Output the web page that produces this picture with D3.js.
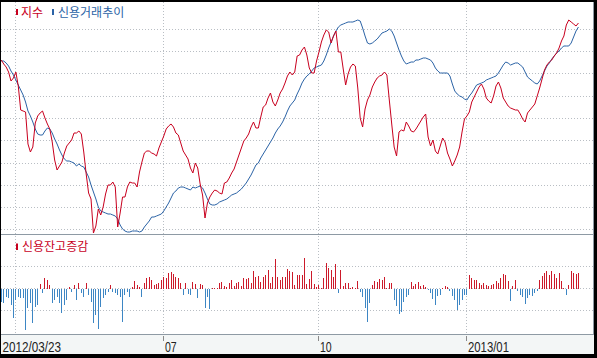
<!DOCTYPE html>
<html><head><meta charset="utf-8">
<script src="https://cdn.jsdelivr.net/npm/d3@7"></script>
<style>html,body{margin:0;padding:0;background:#000;overflow:hidden}svg{display:block}</style>
</head><body>
<script>
// 지수 (index line), arbitrary units
const indexSeries = [170,166,163,158,149,152,158,144,120,119,
118,86,78,83,107,114,117,119,112,106,
101,88,70,60,64,68,77,84,87,90,
97,97,99,96,78,56,37,31,-3,4,
21,15,23,36,45,45,48,43,3,17,
33,33,43,48,47,47,43,58,68,77,
79,79,77,76,74,82,88,94,101,104,
106,103,97,95,87,79,75,71,62,57,
67,62,46,35,12,27,33,37,40,39,
37,36,47,48,52,57,61,68,75,82,
89,92,96,103,108,102,102,113,123,125,
132,137,128,124,130,137,141,147,154,158,
155,158,174,175,180,183,175,162,157,157,
169,178,188,195,200,198,187,194,199,178,
178,161,145,156,163,166,164,142,112,103,
121,130,135,143,148,152,154,155,158,155,
130,106,83,74,98,100,99,108,104,99,
98,101,105,109,113,116,93,84,90,79,
76,84,92,88,77,71,64,69,75,83,
98,111,114,118,128,133,138,143,146,141,
132,129,127,134,144,148,142,132,128,124,
122,121,120,120,116,111,108,117,120,123,
126,134,142,151,160,165,168,170,174,177,
182,189,194,205,210,208,206,204,207];

// 신용거래추이 (credit trading trend)
const creditTrend = [169,169,167,164,159,155,150,145,140,135,
128,119,114,108,101,96,95,95,99,102,
101,97,91,86,80,75,71,69,69,68,
67,64,66,64,63,58,53,45,38,31,
23,19,18,17,16,16,15,14,11,5,
1,-1,-2,-2,-1,-1,-1,-2,-1,3,
6,9,13,13,14,15,16,19,23,27,
32,37,39,42,43,43,42,41,40,43,
42,43,44,42,37,31,26,25,25,26,
28,29,30,31,33,35,36,37,39,41,
44,47,51,55,60,65,67,72,76,80,
84,88,92,97,101,104,108,113,119,124,
127,130,136,141,147,151,154,156,159,162,
163,164,165,169,175,182,188,194,199,203,
205,206,207,208,208,208,209,210,209,202,
194,187,186,187,189,191,194,197,198,199,
201,199,194,187,180,174,169,166,167,168,
168,170,170,171,172,172,171,170,167,162,
159,157,157,157,157,154,146,139,136,134,
133,131,130,134,137,141,145,146,147,148,
150,151,152,153,154,157,161,165,168,167,
165,166,167,167,165,163,158,153,151,149,
147,146,149,154,159,164,167,171,174,177,
179,182,184,184,184,187,193,199,203];

// 신용잔고증감 (daily change of credit balance)
const creditChange = [-0.6,-0.66,-0.36,-0.44,-0.74,-1.34,-0.51,-0.36,-0.44,-0.44,
-1.86,-0.89,-0.66,-1.56,-0.81,-0.74,0.2,-0.21,0.5,0.39,
0.17,-0.66,-0.51,-0.36,-0.66,-1.11,-0.74,-0.51,0.09,-0.14,
0.17,-0.51,0.24,-0.21,-0.36,0.24,-0.29,-0.59,-1.56,-1.19,
-1.82,-0.81,-0.44,-0.29,-0.14,0.17,-0.14,-0.21,-0.29,-0.36,
-1.52,-0.29,-0.14,-0.36,0.09,0.35,0.17,0.09,-0.36,0.24,
0.47,0.54,0.39,0.17,0.2,0.24,0.39,0.54,0.47,0.69,
0.74,0.65,0.54,0.47,0.24,-0.29,0.24,-0.26,-0.29,0.32,
0.2,-0.44,0.21,0.17,-0.89,-0.36,-0.93,0.03,0.02,0.05,
0.27,0.3,0.12,0.09,0.27,0.39,0.12,0.27,0.3,0.12,
0.48,0.45,0.48,0.24,0.8,0.54,0.57,0.32,0.54,0.63,
0.84,0.24,0.54,1.34,0.51,0.39,0.54,0.54,0.89,0.81,
0.75,0.18,0.63,0.63,0.63,1.4,0.21,0.42,0.8,0.21,
0.09,0.18,0.05,0.48,1.17,0.93,0.84,0.54,1.1,-0.18,
0.86,0.12,0.27,0.27,0.05,0.09,0.04,0.35,-0.14,-0.36,
-0.89,-1.48,-0.66,0.17,0.36,0.32,0.42,0.39,0.54,0.04,
0.27,0.24,-0.51,-0.78,-1.14,-1.05,-0.6,-0.36,-0.3,0.29,
0.11,0.21,0.29,0.11,0.15,0.06,-0.05,-0.2,-0.45,-0.75,
-0.35,-0.27,0.03,0.14,0.09,-0.12,-0.35,-0.5,-0.95,-0.72,
-0.5,-0.3,-0.27,0.63,0.48,0.41,0.41,0.26,0.15,0.25,
0.18,0.11,0.18,0.21,0.35,0.26,0.48,0.66,0.6,0.33,
-0.57,0.11,0.41,-0.12,-0.3,-0.39,-0.69,-0.42,-0.27,-0.35,
-0.2,-0.1,0.41,0.56,0.71,0.78,0.6,0.78,0.66,0.48,
0.71,0.36,0.05,-0.27,0.18,0.78,0.71,0.66,0.71];

// x axis: trading-day index of labelled ticks
const tickIdx = [0, 67, 131, 192];
const tickLabels = ["2012/03/23", "07", "10", "2013/01"];
const gridIdx = [6, 67, 131, 192];
const topGridStep = 22.3;
const topGridCount = 10;
const bottomGridVals = [-1, 0, 1];
const legendTop = ["지수", "신용거래추이"];
const legendBottom = ["신용잔고증감"];

const W = 597, H = 358;
const RED = "#c8001e", BLUE = "#2b63a6", BAR_RED = "#cc1a2a", BAR_BLUE = "#3d86c4";
const GRID = "#b9bec4", FRAME = "#8e9aa4";

const svg = d3.select("body").append("svg").attr("width", W).attr("height", H);
svg.append("rect").attr("width", W).attr("height", H).attr("fill", "#000");
svg.append("rect").attr("x", 1).attr("y", 2).attr("width", 593).attr("height", 352).attr("fill", "#ffffff");
svg.append("rect").attr("x", 1).attr("y", 335).attr("width", 593).attr("height", 19).attr("fill", "#f3f6f6");

const x = d3.scaleLinear().domain([0, 244]).range([1.3, 593]);
const yTop = d3.scaleLinear().domain([-4.5, 228]).range([234.5, 2]);
const yBot = d3.scaleLinear().domain([-2.065, 2.44]).range([334.5, 234.5]);
const px = v => Math.floor(v) + 0.5;

// grid
const g = svg.append("g").attr("stroke", GRID).attr("stroke-width", 1).attr("stroke-dasharray", "1,2").attr("fill", "none");
d3.range(topGridCount).forEach(k => {
  const yy = px(yTop(k * topGridStep));
  g.append("line").attr("x1", 1).attr("x2", 593).attr("y1", yy).attr("y2", yy);
});
bottomGridVals.forEach(v => {
  const yy = px(yBot(v));
  g.append("line").attr("x1", 1).attr("x2", 593).attr("y1", yy).attr("y2", yy);
});
gridIdx.forEach(i => {
  const xx = px(x(i));
  g.append("line").attr("x1", xx).attr("x2", xx).attr("y1", 2).attr("y2", 334);
});

// frame lines
const f = svg.append("g").attr("stroke", FRAME).attr("stroke-width", 1);
f.append("line").attr("x1", 1).attr("x2", 594).attr("y1", 234.5).attr("y2", 234.5);
f.append("line").attr("x1", 1).attr("x2", 594).attr("y1", 334.5).attr("y2", 334.5);
f.append("line").attr("x1", 593.5).attr("x2", 593.5).attr("y1", 2).attr("y2", 335);

// bars
const zeroY = Math.round(yBot(0));
svg.append("g").selectAll("rect").data(creditChange).join("rect")
  .attr("x", (d, i) => Math.floor(x(i)))
  .attr("width", 1)
  .attr("y", d => d >= 0 ? Math.round(yBot(d)) : zeroY)
  .attr("height", d => d >= 0 ? Math.max(1, zeroY - Math.round(yBot(d))) : Math.max(1, Math.round(yBot(d)) - zeroY))
  .attr("fill", d => d >= 0 ? BAR_RED : BAR_BLUE);

// lines
const line = d3.line().x((d, i) => x(i)).y(d => yTop(d));
svg.append("path").datum(creditTrend).attr("d", line).attr("fill", "none").attr("stroke", BLUE).attr("stroke-width", 1);
svg.append("path").datum(indexSeries).attr("d", line).attr("fill", "none").attr("stroke", RED).attr("stroke-width", 1);

// legends
const lf = "'Noto Sans CJK KR', 'Noto Sans', sans-serif";
svg.append("rect").attr("x", 16).attr("y", 9).attr("width", 2).attr("height", 6).attr("fill", RED);
svg.append("text").attr("x", 21).attr("y", 16.5).attr("font-family", lf).attr("font-size", 12).attr("fill", RED).text(legendTop[0]);
svg.append("rect").attr("x", 52).attr("y", 9).attr("width", 2).attr("height", 6).attr("fill", BLUE);
svg.append("text").attr("x", 58).attr("y", 16.5).attr("font-family", lf).attr("font-size", 12).attr("fill", BLUE).text(legendTop[1]);
svg.append("rect").attr("x", 16).attr("y", 243.5).attr("width", 2).attr("height", 6.5).attr("fill", RED);
svg.append("text").attr("x", 22).attr("y", 251).attr("font-family", lf).attr("font-size", 12).attr("fill", RED).text(legendBottom[0]);

// x axis
const ax = svg.append("g");
tickIdx.forEach((i, k) => {
  const xx = px(x(i));
  if (i > 0) ax.append("line").attr("x1", xx).attr("x2", xx).attr("y1", 336).attr("y2", 341).attr("stroke", "#8a8a8a");
  const lbl = tickLabels[k];
  ax.append("text").attr("x", i > 0 ? xx + 1.5 : 2.5).attr("y", 351.5)
    .attr("font-family", "'Liberation Sans', Arial, sans-serif").attr("font-size", 15)
    .attr("textLength", lbl.length * 5.85).attr("lengthAdjust", "spacingAndGlyphs")
    .attr("fill", "#222").text(lbl);
});
</script>
</body></html>
